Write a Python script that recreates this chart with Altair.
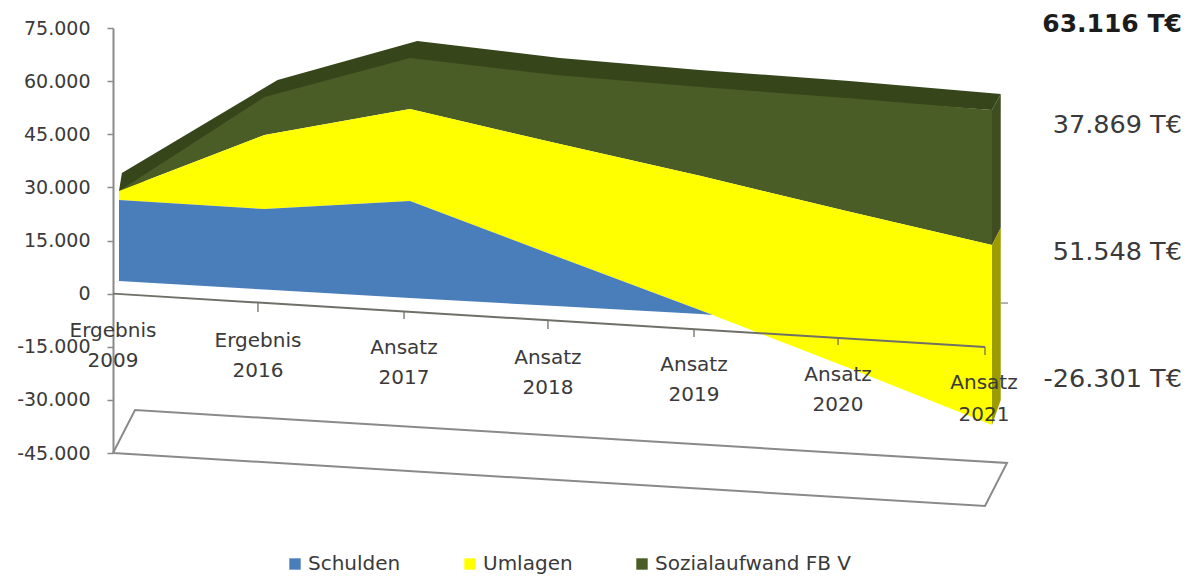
import altair as alt
import pandas as pd

SERIES = ["Schulden", "Umlagen", "Sozialaufwand FB V"]
COLORS = ["#4a7ebb", "#ffff00", "#4b5d27"]
TOP_FACE = "#37451b"
GREEN_SIDE = "#3f4d20"
YELLOW_SIDE = "#9c9c00"
INK = "#3a3a3a"
RULE = "#8a8a8a"
AXIS_INK = "#707068"

FRONT_X = [0, 1, 2, 3, 4, 5, 6]

BLUE_X = [0, 1, 2, 3, 4, 4.08]
BLUE_TOP = [26428, 23887, 26146, 10616, -4772, -6042]
BLUE_BOTTOM = [3558, 1158, -1242, -3501, -5760, -6042]

YELLOW_TOP = [28969, 44781, 52122, 42522, 33204, 23322, 13722]
YELLOW_BOTTOM = [26428, 23887, 26146, 10616, -4772, -20725, -37101]

GREEN_TOP = [28969, 55510, 66522, 61722, 58334, 55228, 51840]

DEPTH_X = [0, 0.02, 1.09, 2.05, 3.03, 3.99, 5.02, 6, 6.06]
DEPTH_TOP = [28969, 34051, 60310, 71322, 66522, 63134, 60027, 56583, 56357]
DEPTH_LOW = [28969, 27840, 54688, 65393, 60356, 57532, 54688, 51840, 56357]

SIDE_X = [6, 6.06]
GREEN_SIDE_TOP = [51840, 56357]
GREEN_SIDE_LOW = [13722, 18522]
YELLOW_SIDE_LOW = [-37101, -30042]

FLOOR_X = [-0.0412, 0.11, 6.103, 5.952, -0.0412]
FLOOR_Y = [-45000, -32866, -47831, -59971, -45000]

AXIS_X = [-0.0412, 5.952]
AXIS_Y = [0, -15078]
TICK_X = [0.955, 1.959, 2.948, 3.952, 4.942, 5.952]
TICK_TOP = [-2598, -5110, -7567, -9995, -12536, -15078]
TICK_LOW = [-5195, -7172, -9995, -12254, -14513, -17336]

LABEL_X = [-0.041, 0.955, 1.959, 2.948, 3.952, 4.942, 5.945]
LABEL_LINE1 = ["Ergebnis", "Ergebnis", "Ansatz", "Ansatz", "Ansatz", "Ansatz", "Ansatz"]
LABEL_LINE2 = ["2009", "2016", "2017", "2018", "2019", "2020", "2021"]
LINE1_Y = [-10278, -13101, -15078, -17901, -19877, -22701, -24960]
LINE2_Y = [-18748, -21571, -23548, -26372, -28348, -31172, -33995]

SIDE_TEXT = ["63.116 T€", "37.869 T€", "51.548 T€", "-26.301 T€"]
SIDE_TEXT_Y = [76405, 47887, 12028, -23830]

Y_TICKS = [75000, 60000, 45000, 30000, 15000, 0, -15000, -30000, -45000]

x_scale = alt.Scale(domain=[-0.0412, 6.11], nice=False, zero=False)
y_scale = alt.Scale(domain=[-45000, 75000], nice=False, zero=False)
color_scale = alt.Scale(domain=SERIES, range=COLORS)

y_axis = alt.Axis(
    values=Y_TICKS,
    grid=False,
    domainColor=RULE,
    domainWidth=2,
    tickColor=RULE,
    tickWidth=1.5,
    tickSize=6,
    labelPadding=17,
    labelFontSize=19,
    labelFont="DejaVu Sans",
    labelColor=INK,
    labelExpr="replace(replace(format(datum.value, ','), /,/g, '.'), '\u2212', '-')",
)


def X():
    return alt.X("x:Q", scale=x_scale, axis=None)


def Y():
    return alt.Y("y:Q", scale=y_scale, axis=y_axis, title=None)


legend = alt.Legend(
    title=None,
    orient="none",
    legendX=172,
    legendY=526,
    direction="horizontal",
    columns=3,
    symbolType="square",
    symbolSize=130,
    symbolStrokeWidth=0,
    labelFontSize=20,
    labelFont="DejaVu Sans",
    labelColor=INK,
    labelLimit=300,
    columnPadding=59,
    labelOffset=3,
)


def band(xs, top, low, color=None, series=None):
    df = pd.DataFrame({"x": xs, "y": top, "y2": low})
    enc = dict(x=X(), y=Y(), y2="y2:Q")
    if series:
        df["series"] = series
        enc["color"] = alt.Color("series:N", scale=color_scale, legend=legend)
        return alt.Chart(df).mark_area(interpolate="linear", opacity=1).encode(**enc)
    return alt.Chart(df).mark_area(interpolate="linear", opacity=1, color=color).encode(**enc)


floor = (
    alt.Chart(pd.DataFrame({"x": FLOOR_X, "y": FLOOR_Y, "o": range(len(FLOOR_X))}))
    .mark_line(color=RULE, strokeWidth=2)
    .encode(x=X(), y=Y(), order="o:Q")
)

cat_axis = (
    alt.Chart(pd.DataFrame({"x": AXIS_X, "y": AXIS_Y}))
    .mark_line(color=AXIS_INK, strokeWidth=2)
    .encode(x=X(), y=Y())
)
cat_ticks = (
    alt.Chart(pd.DataFrame({"x": TICK_X, "y": TICK_TOP, "y2": TICK_LOW}))
    .mark_rule(color=AXIS_INK, strokeWidth=1.3)
    .encode(x=X(), y=Y(), y2="y2:Q")
)
back_tick = (
    alt.Chart(pd.DataFrame({"x": [6.06], "x2": [6.11], "y": [-2654]}))
    .mark_rule(color=RULE, strokeWidth=1.3)
    .encode(x=X(), x2="x2:Q", y=Y())
)


def text_layer(xs, ys, texts, size=20, weight="normal", align="center", color=INK):
    df = pd.DataFrame({"x": xs, "y": ys, "t": texts})
    return (
        alt.Chart(df)
        .mark_text(
            font="DejaVu Sans",
            fontSize=size,
            fontWeight=weight,
            color=color,
            align=align,
            baseline="middle",
            dy=1,
        )
        .encode(x=X(), y=Y(), text="t:N")
    )


chart = alt.layer(
    floor,
    band(DEPTH_X, DEPTH_TOP, DEPTH_LOW, color=TOP_FACE),
    band(SIDE_X, GREEN_SIDE_TOP, GREEN_SIDE_LOW, color=GREEN_SIDE),
    band(SIDE_X, GREEN_SIDE_LOW, YELLOW_SIDE_LOW, color=YELLOW_SIDE),
    band(FRONT_X, GREEN_TOP, YELLOW_TOP, series=SERIES[2]),
    band(FRONT_X, YELLOW_TOP, YELLOW_BOTTOM, series=SERIES[1]),
    band(BLUE_X, BLUE_TOP, BLUE_BOTTOM, series=SERIES[0]),
    cat_axis,
    cat_ticks,
    back_tick,
    text_layer(LABEL_X, LINE1_Y, LABEL_LINE1),
    text_layer(LABEL_X, LINE2_Y, LABEL_LINE2),
    text_layer([7.305] * 3, SIDE_TEXT_Y[1:], SIDE_TEXT[1:], size=25.5, align="right"),
    text_layer([7.305], SIDE_TEXT_Y[:1], SIDE_TEXT[:1], size=25, weight="bold", align="right", color="#1c1c1c"),
).properties(
    width=895,
    height=425,
    autosize=alt.AutoSizeParams(type="none"),
    padding={"left": 105, "top": 20, "right": 176, "bottom": 122},
).configure_view(stroke=None)

chart.save("out.html", embed_options={"renderer": "svg", "actions": False})
